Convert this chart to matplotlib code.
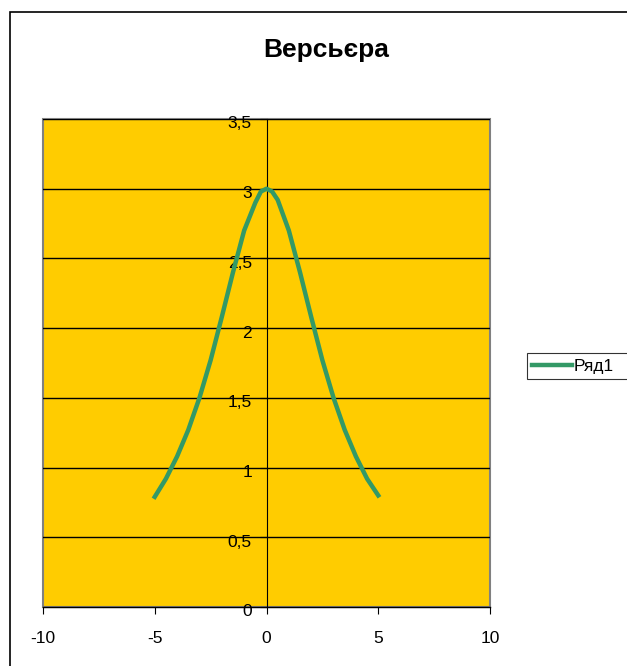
import matplotlib.pyplot as plt
import matplotlib.transforms as mtransforms
from matplotlib.patches import Rectangle

plt.rcParams['font.family'] = ['Liberation Sans', 'DejaVu Sans']
plt.rcParams['axes.unicode_minus'] = False

# Witch of Agnesi sample points
x_vals = [-5, -4.5, -4, -3.5, -3, -2.5, -2, -1.5, -1, -0.5, -0.25, 0,
          0.25, 0.5, 1, 1.5, 2, 2.5, 3, 3.5, 4, 4.5, 5]
y_vals = [0.79, 0.92, 1.08, 1.27, 1.5, 1.77, 2.08, 2.4, 2.7, 2.9, 2.98, 3.0,
          2.98, 2.92, 2.7, 2.4, 2.08, 1.77, 1.5, 1.27, 1.08, 0.92, 0.8]
y_ticks = [0, 0.5, 1, 1.5, 2, 2.5, 3, 3.5]
y_tick_labels = ['0', '0,5', '1', '1,5', '2', '2,5', '3', '3,5']
x_ticks = [-10, -5, 0, 5, 10]

W, H = 627, 666
fig = plt.figure(figsize=(W / 100, H / 100), dpi=100)

# outer chart frame (runs off the right and bottom edges)
fig.patches.append(Rectangle((10 / W, -0.1), 1.2, 1 - 12 / H + 0.1,
                             transform=fig.transFigure, fill=False,
                             edgecolor='black', linewidth=1.2))

ax = fig.add_axes([43 / W, 1 - 607 / H, (490 - 43) / W, (607 - 119) / H])
ax.set_facecolor('#FFCC00')
ax.set_xlim(-10, 10)
ax.set_ylim(0, 3.5)

for y in y_ticks[1:]:
    ax.axhline(y, color='black', linewidth=1.0, zorder=1)

ax.plot(x_vals, y_vals, color='#339966', linewidth=3.2, label='Ряд1', zorder=3,
        solid_joinstyle='round')

# axes cross at the origin, plot area has a grey frame
ax.spines['left'].set_position(('data', 0))
ax.spines['left'].set_linewidth(0.8)
ax.spines['bottom'].set_linewidth(1.0)
ax.spines['right'].set_visible(False)
ax.spines['top'].set_visible(False)
ax.add_patch(Rectangle((0, 0), 1, 1, transform=ax.transAxes, fill=False,
                       edgecolor='#808080', linewidth=1.5, zorder=0.5,
                       clip_on=False))

ax.set_yticks(y_ticks)
ax.set_yticklabels(y_tick_labels)
ax.set_xticks(x_ticks)
ax.tick_params(axis='y', direction='out', length=5, width=0.8, labelsize=12.5, pad=5.5)
ax.tick_params(axis='x', direction='out', length=5, width=0.8, labelsize=12.5, pad=12)

# nudge the y labels a little below their gridlines
shift = mtransforms.ScaledTranslation(0, -2.5 / 72, fig.dpi_scale_trans)
for lbl in ax.get_yticklabels():
    lbl.set_transform(lbl.get_transform() + shift)

fig.text(326 / W, 1 - 50 / H, 'Версьєра', ha='center', va='center',
         fontsize=19, fontweight='bold')

leg = fig.legend(loc='center left',
                 bbox_to_anchor=(527 / W, 1 - 380 / H, 130 / W, 28 / H),
                 mode='expand', fontsize=12.5, frameon=True, fancybox=False,
                 handlelength=2.3, handletextpad=0.1, borderpad=0.3,
                 borderaxespad=0)
leg.get_frame().set_edgecolor('black')
leg.get_frame().set_linewidth(0.8)

fig.savefig('out.png', dpi=100)
